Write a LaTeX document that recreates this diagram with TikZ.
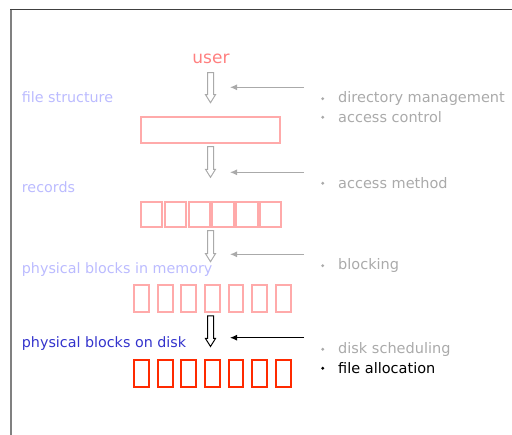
\documentclass[tikz,border=0pt]{standalone}
\usepackage{fontspec}
\setmainfont{DejaVu Sans}
\usetikzlibrary{arrows.meta}
\definecolor{userred}{HTML}{FF8080}
\definecolor{lavender}{HTML}{BBBBFF}
\definecolor{softgray}{HTML}{AAAAAA}
\definecolor{pinkbox}{HTML}{FFAAAA}
\definecolor{diskred}{HTML}{FF2A00}
\definecolor{diskblue}{HTML}{3333CC}
\tikzset{
  lbl/.style={anchor=west, inner sep=0pt, font=\fontsize{14.3}{16}\selectfont},
  itemtxt/.style={anchor=west, inner sep=0pt, font=\fontsize{14.5}{16}\selectfont},
  feed/.style={-{Latex[length=7pt,width=6pt]}, line width=1.1pt},
  cell/.style={line width=1.9pt},
}
% hollow down arrow: #1 colour, #2 x centre, #3 top y, #4 tip y
\newcommand{\hollowdown}[4]{%
  \draw[#1, line width=1pt, line join=miter]
    (#2-3,#3) -- (#2+3,#3) -- (#2+3,#4-8) -- (#2+5,#4-8) -- (#2,#4)
    -- (#2-5,#4-8) -- (#2-3,#4-8) -- cycle;}
\begin{document}
\begin{tikzpicture}[x=1pt,y=-1pt]
\useasboundingbox (0,0) rectangle (512,435);
% frame
\draw[color=black!50, line width=2.2pt] (11,9) -- (11,435);
\draw[color=black!75, line width=1.4pt] (10,9.5) -- (512,9.5);

% top label
\node[inner sep=0pt, text=userred, font=\fontsize{17}{19}\selectfont] (user) at (211,59) {user};

% left layer labels
\node[lbl, text=lavender] (lfs) at (21.7,97.3) {file structure};
\node[lbl, text=lavender] (lrec) at (21.7,186.7) {records};
\node[lbl, text=lavender] (lmem) at (21.7,270) {physical blocks in memory};
\node[lbl, text=diskblue] (ldisk) at (21.7,343.3) {physical blocks on disk};

% hollow arrows between layers
\hollowdown{softgray}{210.5}{72.7}{102.7}
\hollowdown{softgray}{210.5}{146.7}{177.3}
\hollowdown{softgray}{210.5}{230.7}{261.7}
\hollowdown{black}{210.5}{316}{346.5}

% layer 1: single file box
\draw[pinkbox, cell] (141,117.3) rectangle (280,142.7);
% layer 2: six records
\foreach \i in {0,...,5}
  \draw[pinkbox, cell] ({141+23.8*\i},201.7) rectangle ({141+23.8*\i+21.4},227.3);
% layer 3: seven blocks in memory
\foreach \i in {0,...,6}
  \draw[pinkbox, cell] ({134.2+23.6*\i},285) rectangle ({134.2+23.6*\i+14.8},312.3);
% layer 4: seven blocks on disk
\foreach \i in {0,...,6}
  \draw[diskred, cell] ({134.2+23.6*\i},360) rectangle ({134.2+23.6*\i+14.8},386.7);

% side arrows
\coordinate (s1) at (304,87.3);  \coordinate (e1) at (230,87.3);
\coordinate (s2) at (304,172.3); \coordinate (e2) at (230,172.3);
\coordinate (s3) at (304,254.3); \coordinate (e3) at (230,254.3);
\coordinate (s4) at (304,337.7); \coordinate (e4) at (230,337.7);
\draw[feed, softgray] (s1) -- (e1);
\draw[feed, softgray] (s2) -- (e2);
\draw[feed, softgray] (s3) -- (e3);
\draw[feed, black] (s4) -- (e4);

% bulleted notes
\foreach \y/\t/\c [count=\k] in {98.7/directory management/softgray,
                        117.3/access control/softgray,
                        183.3/access method/softgray,
                        265.7/blocking/softgray,
                        349.3/disk scheduling/softgray,
                        368.3/file allocation/black}{
  \fill[\c] (322.7,\y) circle (1.6);
  \node[itemtxt, text=\c] (note\k) at (338,\y) {\t};
}
\end{tikzpicture}
\end{document}
